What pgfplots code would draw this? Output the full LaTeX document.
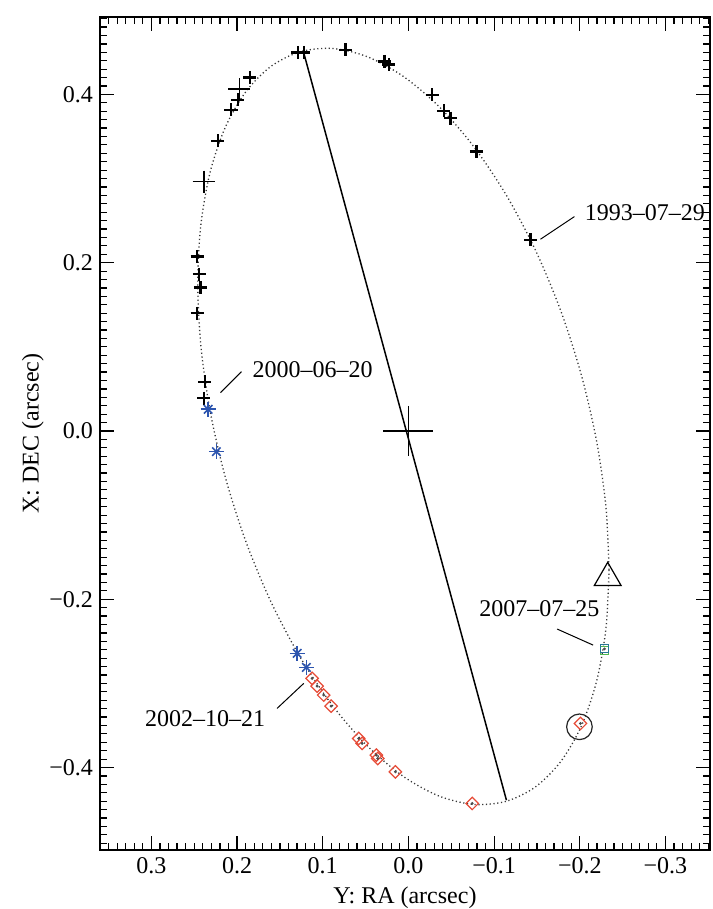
\documentclass[border=0pt]{standalone}
\usepackage{fontspec}
\setmainfont{Liberation Serif}
\usepackage{pgfplots}
\pgfplotsset{compat=1.18}
\definecolor{ablue}{RGB}{45,85,175}
\definecolor{ared}{RGB}{230,75,55}
\definecolor{agreen}{RGB}{80,185,80}
\definecolor{ateal}{RGB}{40,120,150}
\definecolor{dotgray}{RGB}{55,55,55}
\begin{document}
\begin{tikzpicture}
\begin{axis}[
  name=ax,
  scale only axis, width=305pt, height=416.5pt,
  x dir=reverse,
  xmin=-0.352, xmax=0.36, ymin=-0.498, ymax=0.492,
  xtick={-0.3,-0.2,-0.1,0,0.1,0.2,0.3},
  xticklabels={−0.3,−0.2,−0.1,0.0,0.1,0.2,0.3},
  ytick={-0.4,-0.2,0,0.2,0.4},
  yticklabels={−0.4,−0.2,0.0,0.2,0.4},
  minor xtick={-0.35,-0.34,-0.33,-0.32,-0.31,-0.29,-0.28,-0.27,-0.26,-0.25,-0.24,-0.23,-0.22,-0.21,
    -0.19,-0.18,-0.17,-0.16,-0.15,-0.14,-0.13,-0.12,-0.11,-0.09,-0.08,-0.07,-0.06,-0.05,-0.04,-0.03,-0.02,-0.01,
    0.01,0.02,0.03,0.04,0.05,0.06,0.07,0.08,0.09,0.11,0.12,0.13,0.14,0.15,0.16,0.17,0.18,0.19,
    0.21,0.22,0.23,0.24,0.25,0.26,0.27,0.28,0.29,0.31,0.32,0.33,0.34,0.35},
  minor ytick={-0.49,-0.48,-0.47,-0.46,-0.45,-0.44,-0.43,-0.42,-0.41,-0.39,-0.38,-0.37,-0.36,-0.35,-0.34,-0.33,-0.32,-0.31,-0.30,
    -0.29,-0.28,-0.27,-0.26,-0.25,-0.24,-0.23,-0.22,-0.21,-0.19,-0.18,-0.17,-0.16,-0.15,-0.14,-0.13,-0.12,-0.11,-0.10,
    -0.09,-0.08,-0.07,-0.06,-0.05,-0.04,-0.03,-0.02,-0.01,0.01,0.02,0.03,0.04,0.05,0.06,0.07,0.08,0.09,0.10,
    0.11,0.12,0.13,0.14,0.15,0.16,0.17,0.18,0.19,0.21,0.22,0.23,0.24,0.25,0.26,0.27,0.28,0.29,0.30,
    0.31,0.32,0.33,0.34,0.35,0.36,0.37,0.38,0.39,0.41,0.42,0.43,0.44,0.45,0.46,0.47,0.48,0.49},
  tick align=inside,
  major tick length=7pt, minor tick length=3.5pt,
  every tick/.append style={black, line width=0.6pt},
  axis line style={line width=0.75pt},
  tick label style={font=\fontsize{12}{14}\selectfont},
  label style={font=\fontsize{12}{14}\selectfont},
  xlabel={Y: RA (arcsec)},
  ylabel={X: DEC (arcsec)},
  ylabel style={yshift=-4pt},
  clip=false,
]
% orbit
\addplot[dotgray, line width=0.65pt, dash pattern=on 0.6pt off 1.3pt, smooth] coordinates {
(-0.23419,-0.16509) (-0.23054,-0.23474) (-0.21971,-0.29709) (-0.20203,-0.35026)
(-0.17803,-0.39261) (-0.14845,-0.42288) (-0.11418,-0.44014) (-0.07626,-0.44385)
(-0.03584,-0.43393) (0.00584,-0.41065) (0.04752,-0.37473) (0.08794,-0.32727)
(0.12586,-0.26970) (0.16013,-0.20376) (0.18971,-0.13149) (0.21371,-0.05504)
(0.23139,0.02323) (0.24222,0.10096) (0.24587,0.17579) (0.24222,0.24544)
(0.23139,0.30779) (0.21371,0.36096) (0.18971,0.40331) (0.16013,0.43358)
(0.12586,0.45084) (0.08794,0.45455) (0.04752,0.44463) (0.00584,0.42135)
(-0.03584,0.38543) (-0.07626,0.33797) (-0.11418,0.28040) (-0.14845,0.21446)
(-0.17803,0.14219) (-0.20203,0.06574) (-0.21971,-0.01253) (-0.23054,-0.09026)
(-0.23419,-0.16509)};
% line of apsides
\addplot[black, line width=0.75pt] coordinates {(0.1222,0.4495) (-0.1144,-0.4388)};
% central star
\addplot[black, only marks, mark=+, mark size=12.5pt, mark options={line width=0.6pt}] coordinates {(0,0)};
% black crosses
\addplot[black, only marks, mark=+, mark size=3.3pt, mark options={line width=1.1pt}] coordinates {
(0.1288,0.4498) (0.1222,0.4498) (0.0735,0.4530) (0.0280,0.4390) (0.0230,0.4355)
(0.1852,0.4201) (0.1993,0.3936) (0.2070,0.3817) (0.2226,0.3448) (0.2466,0.2073)
(0.2440,0.1863) (0.2428,0.1704) (0.2466,0.1400) (0.2378,0.0586) (0.2389,0.0389)
(-0.0277,0.3995) (-0.0412,0.3805) (-0.0490,0.3718) (-0.0794,0.3321) (-0.1424,0.2271)};
\addplot[black, only marks, mark=+, mark size=5.5pt, mark options={line width=0.8pt}] coordinates {
(0.1973,0.4063) (0.2389,0.2964)};
% blue asterisks
\addplot[ablue, only marks, mark=+, mark size=3.8pt, mark options={line width=0.8pt}] coordinates {
(0.2338,0.0258) (0.2241,-0.0246) (0.1299,-0.2643) (0.1191,-0.2810)};
\addplot[ablue, only marks, mark=x, mark size=3pt, mark options={line width=0.8pt}] coordinates {
(0.2338,0.0258) (0.2241,-0.0246) (0.1299,-0.2643) (0.1191,-0.2810)};
% red diamonds
\addplot[ared, only marks, mark=square, mark size=2.2pt, mark options={rotate=45, line width=0.6pt}] coordinates {
(0.1124,-0.2941) (0.1066,-0.3032) (0.0989,-0.3139) (0.0902,-0.3270) (0.0580,-0.3654)
(0.0540,-0.3713) (0.0374,-0.3853) (0.0358,-0.3892) (0.0152,-0.4051) (-0.0744,-0.4427)
(-0.2008,-0.3476)};
\addplot[black!70, only marks, mark=*, mark size=0.5pt] coordinates {
(0.1124,-0.2941) (0.1066,-0.3032) (0.0989,-0.3139) (0.0902,-0.3270) (0.0580,-0.3654)
(0.0540,-0.3713) (0.0374,-0.3853) (0.0358,-0.3892) (0.0152,-0.4051) (-0.0744,-0.4427)
(-0.2008,-0.3476) (-0.2288,-0.2590)};
% 2007 points
\addplot[agreen, only marks, mark=square, mark size=1.9pt, mark options={line width=0.6pt}] coordinates {(-0.2290,-0.2610)};
\addplot[ateal, only marks, mark=square, mark size=1.9pt, mark options={line width=0.6pt}] coordinates {(-0.2288,-0.2584)};
% circle and triangle
\addplot[black!85, only marks, mark=o, mark size=6.4pt, mark options={line width=0.6pt}] coordinates {(-0.1996,-0.3516)};
\addplot[black, only marks, mark=triangle, mark size=7.7pt, mark options={line width=0.6pt}] coordinates {(-0.2326,-0.1744)};
% leader lines
\addplot[black, line width=0.5pt] coordinates {(-0.1541,0.2279) (-0.1938,0.2548)};
\addplot[black, line width=0.5pt] coordinates {(0.2194,0.0455) (0.1949,0.0705)};
\addplot[black, line width=0.5pt] coordinates {(0.1533,-0.3297) (0.1222,-0.3000)};
\addplot[black, line width=0.5pt] coordinates {(-0.1736,-0.2354) (-0.2156,-0.2545)};
% labels
\node[anchor=west, inner sep=0pt, font=\fontsize{12}{14}\selectfont] at (axis cs:-0.2054,0.2589) {1993–07–29};
\node[anchor=west, inner sep=0pt, font=\fontsize{12}{14}\selectfont] at (axis cs:0.1824,0.0734) {2000–06–20};
\node[anchor=east, inner sep=0pt, font=\fontsize{12}{14}\selectfont] at (axis cs:0.1669,-0.3416) {2002–10–21};
\node[anchor=center, inner sep=0pt, font=\fontsize{12}{14}\selectfont] at (axis cs:-0.1527,-0.2108) {2007–07–25};
\end{axis}
\pgfresetboundingbox
\path[use as bounding box] ([xshift=-50pt,yshift=-29.5pt]ax.south west) rectangle ([xshift=1pt,yshift=8.5pt]ax.north east);
\end{tikzpicture}
\end{document}
